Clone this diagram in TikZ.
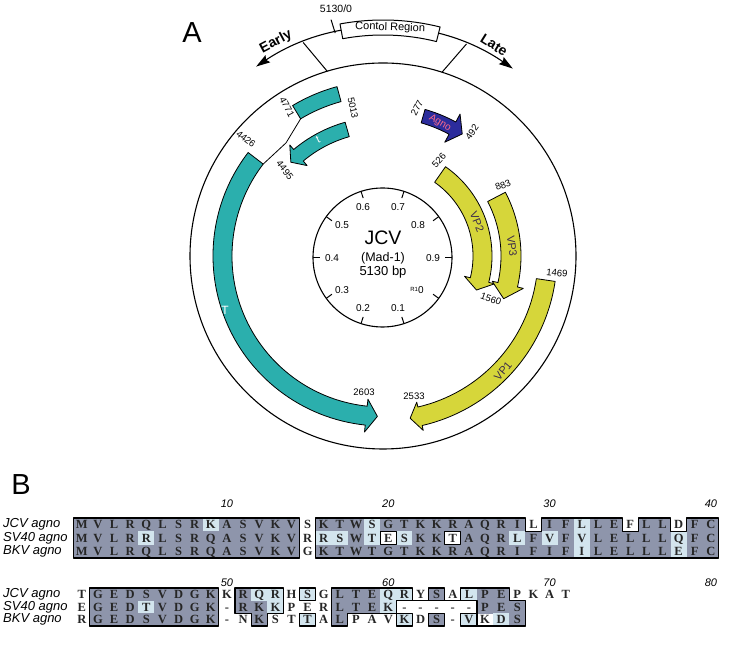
\documentclass[tikz,border=0pt]{standalone}
\usepackage{fontspec}
\setmainfont{Liberation Sans}
\newfontfamily\resfont{Liberation Serif}
\usetikzlibrary{arrows.meta}
\definecolor{teal1}{HTML}{2BAFAD}
\definecolor{yel1}{HTML}{D6D63A}
\definecolor{agblue}{HTML}{2C2C9C}
\definecolor{agred}{HTML}{FF6A8A}
\definecolor{shdark}{HTML}{8E95AB}
\definecolor{shlight}{HTML}{D3E5EE}
\definecolor{vptext}{HTML}{3A2A4A}
\newcommand\colL[1]{(73.735+16.13*(#1-1))}
\newcommand\colR[1]{(73.735+16.13*(#1))}
\newcommand\colC[1]{(81.8+16.13*(#1-1))}
\newcommand\arcarrow[7]{%
 \filldraw[#1] ({#2}:{#6}) arc[start angle=#2, end angle=#3, radius=#6] -- ({#3}:{#6+#7}) -- ({#4}:{(#5+#6)/2}) -- ({#3}:{#5-#7}) -- ({#3}:{#5}) arc[start angle=#3, end angle=#2, radius=#5] -- cycle;}
\tikzset{
 feat/.style={fill=#1, draw=black, line width=0.8pt},
 numlab/.style={font=\fontsize{9.5}{10}\selectfont, inner sep=0pt},
 ticklab/.style={font=\fontsize{10}{11}\selectfont, inner sep=0pt},
 res/.style={font={\resfont\bfseries\fontsize{12.5}{13}\selectfont}, inner sep=0pt, text height=8.4pt, text depth=0pt, text=black!85},
 spec/.style={font={\itshape\fontsize{13}{14}\selectfont}, anchor=west, inner sep=0pt},
 posnum/.style={font={\itshape\fontsize{11}{12}\selectfont}, inner sep=0pt},
 ol/.style={draw=black, line width=1.1pt},
 sd/.style={fill=shdark}, sl/.style={fill=shlight}, sw/.style={},
 vplab/.style={font=\fontsize{11}{12}\selectfont, text=vptext, inner sep=0pt},
}
\begin{document}
\begin{tikzpicture}[x=1pt,y=1pt,line join=round]
\useasboundingbox (0,0) rectangle (734,645);
% ---------- circular map (page coordinates, centre of map)
\begin{scope}[shift={(383,389)}]
\draw[line width=1.1pt] (0,0) circle[radius=193];
\draw[line width=1.1pt,{Stealth[length=14pt,width=8.5pt,inset=2pt]}-{Stealth[length=14pt,width=8.5pt,inset=2pt]}] (123.8:228) arc[start angle=123.8,end angle=55.3,radius=228];
\draw[line width=1pt] (110.5:228) -- (106.8:193);
\draw[line width=1pt] (68.5:228) -- (72.2:193);
\draw[line width=1pt] (102.1:228) -- (102.4:242);
\filldraw[fill=white,line width=1pt] (100.5:221) arc[start angle=100.5,end angle=76,radius=221] -- (76:236) arc[start angle=76,end angle=100.5,radius=236] -- cycle;
\node[font=\fontsize{11}{12}\selectfont, rotate=-1.8, inner sep=0pt] (ctrl) at (88.2:228.5) {Contol Region};
\filldraw[feat=teal1] (105.2:175.5) arc[start angle=105.2,end angle=121,radius=175.5] -- (121:160) arc[start angle=121,end angle=105.2,radius=160] -- cycle;
\draw[line width=0.8pt] (121:160) -- (130.6:149) -- (142.5:151);
\arcarrow{feat=teal1}{105.8}{130}{134.5}{124}{139}{6}
\arcarrow{feat=teal1}{142.5}{264}{268}{151}{170}{7}
\arcarrow{fill=agblue,draw=black,line width=0.8pt}{74}{61.5}{57}{138.5}{152.5}{9}
\arcarrow{feat=yel1}{55}{-14}{-20}{90}{109}{6}
\arcarrow{feat=yel1}{27.5}{-13}{-19.5}{118}{138}{6}
\arcarrow{feat=yel1}{-8.4}{-77}{-80.5}{155}{174}{5}
\end{scope}
\begin{scope}[shift={(382.5,387.5)}]
\draw[line width=1.1pt] (0,0) circle[radius=69.5];
\foreach \a in {0,36,...,324} \draw[line width=1pt] (\a:69.5) -- (\a:62.5);
\end{scope}
% ---------- labels and panel B (image coordinates)
\begin{scope}[shift={(0,645)},yscale=-1]
\node[font=\fontsize{29}{30}\selectfont, inner sep=0pt] (lA) at (192,33) {A};
\node[font=\fontsize{29}{30}\selectfont, inner sep=0pt] (lB) at (21,485) {B};
\node[font=\bfseries\fontsize{14}{15}\selectfont, rotate=28, inner sep=0pt] (early) at (276,42) {Early};
\node[font=\bfseries\fontsize{14}{15}\selectfont, rotate=-32, inner sep=0pt] (late) at (494,45) {Late};
\node[numlab, font=\fontsize{10.5}{11}\selectfont] (n0) at (336,9) {5130/0};
\node[numlab, rotate=-62] (n4771) at (287,107) {4771};
\node[numlab, rotate=-78] (n5013) at (353,108) {5013};
\node[numlab, rotate=-38] (n4426) at (246,139) {4426};
\node[numlab, rotate=-52] (n4495) at (285,170) {4495};
\node[numlab, rotate=62] (n277) at (417,108) {277};
\node[numlab, rotate=55] (n492) at (472,132) {492};
\node[numlab, rotate=48] (n526) at (439,160) {526};
\node[numlab, rotate=22] (n883) at (503,185) {883};
\node[numlab, rotate=-20] (n1560) at (491,299) {1560};
\node[numlab, rotate=-6] (n1469) at (557,273) {1469};
\node[numlab] (n2533) at (414,396) {2533};
\node[numlab] (n2603) at (364,392) {2603};
\node[font=\fontsize{11}{12}\selectfont, text=white, rotate=25, inner sep=0pt] (lt) at (318,140) {t};
\node[font=\fontsize{12}{13}\selectfont, text=white, inner sep=0pt] (lT) at (225,310) {T};
\node[vplab, rotate=-68] (vp2) at (477,222) {VP2};
\node[vplab, rotate=-83] (vp3) at (512,246) {VP3};
\node[vplab, rotate=50] (vp1) at (503,371) {VP1};
\node[font=\fontsize{10}{11}\selectfont, text=agred, rotate=-30, inner sep=0pt] (agno) at (440,123) {Agno};
\node[font=\fontsize{19.5}{20}\selectfont, inner sep=0pt] (jcv) at (383,238) {JCV};
\node[font=\fontsize{12.5}{13}\selectfont, inner sep=0pt] (mad) at (383,258) {(Mad-1)};
\node[font=\fontsize{13}{14}\selectfont, inner sep=0pt] (bp) at (383,272) {5130 bp};
\node[ticklab] (t6) at (363,207) {0.6};
\node[ticklab] (t7) at (398,207) {0.7};
\node[ticklab] (t5) at (342,225) {0.5};
\node[ticklab] (t8) at (418,225) {0.8};
\node[ticklab] (t4) at (332,258) {0.4};
\node[ticklab] (t9) at (433,258) {0.9};
\node[ticklab] (t3) at (342,290) {0.3};
\node[ticklab] (t2) at (363,308) {0.2};
\node[ticklab] (t1) at (398,308) {0.1};
\node[ticklab] (t0) at (417,290) {\raisebox{2pt}{\fontsize{6}{6}\selectfont R1}0};
% ----- panel B, block 1
\foreach \s [count=\i] in {sd,sd,sd,sd,sd,sd,sd,sd,sl,sd,sd,sd,sd,sd,sw,sd,sd,sd,sl,sd,sd,sd,sd,sd,sd,sd,sd,sd,sw,sd,sd,sl,sd,sd,sw,sd,sd,sw,sd,sd}
  \path[\s] ({\colL{\i}},518) rectangle ({\colR{\i}+0.3},531.63);
\foreach \s [count=\i] in {sd,sd,sd,sd,sl,sd,sd,sd,sd,sd,sd,sd,sd,sd,sw,sl,sl,sd,sl,sw,sl,sd,sd,sw,sd,sd,sd,sl,sd,sl,sd,sl,sd,sd,sd,sd,sd,sl,sd,sd}
  \path[\s] ({\colL{\i}},531.33) rectangle ({\colR{\i}+0.3},544.97);
\foreach \s [count=\i] in {sd,sd,sd,sd,sd,sd,sd,sd,sd,sd,sd,sd,sd,sd,sw,sd,sd,sd,sd,sd,sd,sd,sd,sd,sd,sd,sd,sd,sd,sd,sd,sl,sd,sd,sd,sd,sd,sl,sd,sd}
  \path[\s] ({\colL{\i}},544.67) rectangle ({\colR{\i}+0.3},558);
\draw[ol] ({\colL{1}},518) rectangle ({\colR{14}},558);
\draw[ol] ({\colL{16}},518) -- ({\colL{29}},518) -- ({\colL{29}},531.33) -- ({\colR{29}},531.33) -- ({\colR{29}},518) -- ({\colL{35}},518) -- ({\colL{35}},531.33) -- ({\colR{35}},531.33) -- ({\colR{35}},518) -- ({\colL{38}},518) -- ({\colL{38}},531.33) -- ({\colR{38}},531.33) -- ({\colR{38}},518) -- ({\colR{40}},518) -- ({\colR{40}},558) -- ({\colL{16}},558) -- cycle;
\draw[ol] ({\colL{20}},531.33) rectangle ({\colR{20}},544.67);
\draw[ol] ({\colL{24}},531.33) rectangle ({\colR{24}},544.67);
\foreach \c [count=\i] in {M,V,L,R,Q,L,S,R,K,A,S,V,K,V,S,K,T,W,S,G,T,K,K,R,A,Q,R,I,L,I,F,L,L,E,F,L,L,D,F,C}
  \node[res] (ja\i) at ({\colC{\i}},524.7) {\c};
\foreach \c [count=\i] in {M,V,L,R,R,L,S,R,Q,A,S,V,K,V,R,R,S,W,T,E,S,K,K,T,A,Q,R,L,F,V,F,V,L,E,L,L,L,Q,F,C}
  \node[res] (sa\i) at ({\colC{\i}},538) {\c};
\foreach \c [count=\i] in {M,V,L,R,Q,L,S,R,Q,A,S,V,K,V,G,K,T,W,T,G,T,K,K,R,A,Q,R,I,F,I,F,I,L,E,L,L,L,E,F,C}
  \node[res] (ba\i) at ({\colC{\i}},551.3) {\c};
\node[spec] (sj1) at (3,524.7) {JCV agno};
\node[spec] (ss1) at (3,538) {SV40 agno};
\node[spec] (sb1) at (3,551.3) {BKV agno};
\foreach \n/\k in {10/10,20/20,30/30,40/40} \node[posnum] (pa\n) at ({\colC{\k}},503.5) {\n};
% ----- panel B, block 2
\foreach \s [count=\i] in {sw,sd,sd,sd,sd,sd,sd,sd,sd,sw,sd,sl,sl,sw,sl,sw,sd,sd,sd,sl,sl,sw,sd,sw,sl,sd,sd,sw}
  \path[\s] ({\colL{\i}},588) rectangle ({\colR{\i}+0.3},600.97);
\foreach \s [count=\i] in {sw,sd,sd,sd,sl,sd,sd,sd,sd,sw,sd,sd,sl,sw,sw,sw,sd,sd,sd,sl,sw,sw,sw,sw,sw,sd,sd,sd}
  \path[\s] ({\colL{\i}},600.67) rectangle ({\colR{\i}+0.3},613.63);
\foreach \s [count=\i] in {sw,sd,sd,sd,sd,sd,sd,sd,sd,sw,sw,sd,sw,sw,sl,sw,sd,sw,sw,sw,sl,sw,sd,sw,sl,sw,sl,sd}
  \path[\s] ({\colL{\i}},613.33) rectangle ({\colR{\i}+0.3},626);
\draw[ol] ({\colL{2}},588) rectangle ({\colR{9}},626);
\draw[ol] ({\colL{11}},588) -- ({\colR{13}},588) -- ({\colR{13}},613.33) -- ({\colR{12}},613.33) -- ({\colR{12}},626) -- ({\colL{12}},626) -- ({\colL{12}},613.33) -- ({\colL{11}},613.33) -- cycle;
\draw[ol] ({\colL{15}},588) rectangle ({\colR{15}},600.67);
\draw[ol] ({\colL{15}},613.33) rectangle ({\colR{15}},626);
\draw[ol] ({\colL{17}},588) -- ({\colR{21}},588) -- ({\colR{21}},600.67) -- ({\colR{20}},600.67) -- ({\colR{20}},613.33) -- ({\colR{17}},613.33) -- ({\colR{17}},626) -- ({\colL{17}},626) -- cycle;
\draw[ol] ({\colR{21}},600.67) -- ({\colL{25}},600.67);
\draw[ol] ({\colL{21}},613.33) rectangle ({\colR{21}},626);
\draw[ol] ({\colL{23}},588) rectangle ({\colR{23}},600.67);
\draw[ol] ({\colL{23}},613.33) rectangle ({\colR{23}},626);
\draw[ol] ({\colL{25}},613.33) rectangle ({\colR{25}},626);
\draw[ol] ({\colL{25}},588) -- ({\colR{27}},588) -- ({\colR{27}},600.67) -- ({\colR{28}},600.67) -- ({\colR{28}},626) -- ({\colL{26}},626) -- ({\colL{26}},600.67) -- ({\colL{25}},600.67) -- cycle;
\foreach \c [count=\i] in {T,G,E,D,S,V,D,G,K,K,R,Q,R,H,S,G,L,T,E,Q,R,Y,S,A,L,P,E,P,K,A,T}
  \node[res] (jb\i) at ({\colC{\i}},594.3) {\c};
\foreach \c [count=\i] in {E,G,E,D,T,V,D,G,K,-,R,K,K,P,E,R,L,T,E,K,-,-,-,-,-,P,E,S}
  \node[res] (sb\i) at ({\colC{\i}},607) {\c};
\foreach \c [count=\i] in {R,G,E,D,S,V,D,G,K,-,N,K,S,T,T,A,L,P,A,V,K,D,S,-,V,K,D,S}
  \node[res] (bb\i) at ({\colC{\i}},619.7) {\c};
\node[spec] (sj2) at (3,594.3) {JCV agno};
\node[spec] (ss2) at (3,607) {SV40 agno};
\node[spec] (sb2) at (3,619.7) {BKV agno};
\foreach \n/\k in {50/10,60/20,70/30,80/40} \node[posnum] (pb\n) at ({\colC{\k}},583) {\n};
\end{scope}
\end{tikzpicture}
\end{document}
